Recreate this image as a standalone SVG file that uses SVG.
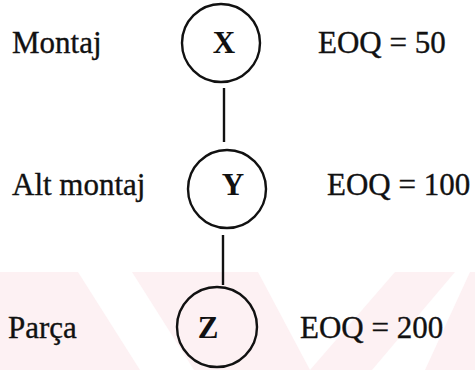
<svg xmlns="http://www.w3.org/2000/svg" width="475" height="370" viewBox="0 0 475 370">
<style>
.wm{fill:#fdf1f3;stroke:none}
.node circle{fill:none;stroke:#111;stroke-width:2.4}
.node text{font-family:"Liberation Serif",serif;font-size:31px;font-weight:bold;fill:#111;text-anchor:middle}
.lbl{font-family:"Liberation Serif",serif;font-size:31px;fill:#111;stroke:#111;stroke-width:0.35}
.conn line{stroke:#111;stroke-width:2.4}
</style>
<rect width="475" height="370" fill="#fff"/>
<g id="watermark">
<polygon class="wm" points="0,272 78,272 140,370 0,370"/>
<polygon class="wm" points="132,272 258,272 310,370 194,370"/>
<polygon class="wm" points="395,272 455,272 372,370 310,370"/>
<polygon class="wm" points="470,272 475,272 475,370 425,370"/>
</g>
<g id="connectors" class="conn">
<line x1="224" y1="88" x2="224" y2="142"/>
<line x1="223" y1="235" x2="223" y2="285"/>
</g>
<g id="nodeX" class="node">
<circle cx="221" cy="43" r="39"/>
<text x="224" y="53">X</text>
</g>
<g id="nodeY" class="node">
<circle cx="227" cy="189" r="39"/>
<text x="233" y="195">Y</text>
</g>
<g id="nodeZ" class="node">
<circle cx="217" cy="327" r="40"/>
<text x="208" y="338">Z</text>
</g>
<g id="labels">
<text class="lbl" x="12" y="53">Montaj</text>
<text class="lbl" x="318" y="53">EOQ = 50</text>
<text class="lbl" x="12" y="195">Alt montaj</text>
<text class="lbl" x="327" y="195">EOQ = 100</text>
<text class="lbl" x="8" y="338">Parça</text>
<text class="lbl" x="300" y="338">EOQ = 200</text>
</g>
</svg>
